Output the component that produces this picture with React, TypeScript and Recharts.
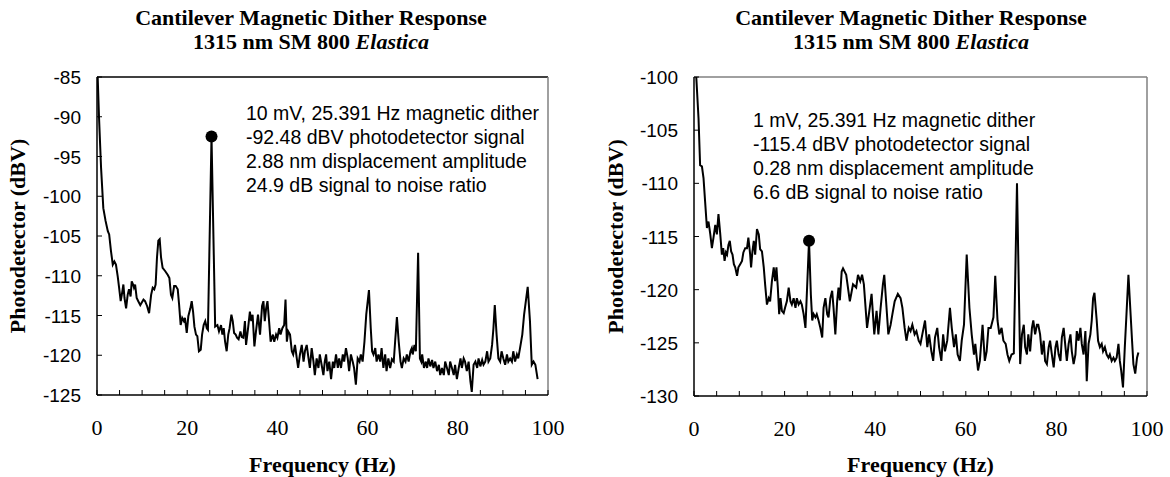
import React from 'react';
import { LineChart, Line, XAxis, YAxis, ReferenceLine, ReferenceDot } from 'recharts';

// ---------- Left panel (10 mV dither) ----------
const leftFreq = [
  0.15, 0.45, 0.9, 1.4, 1.9, 2.4, 2.7, 3.1, 3.5, 3.85, 4.2, 4.6, 4.9, 5.25, 5.5, 5.85, 6.1, 6.45, 6.8, 7.1,
  7.45, 7.7, 8.0, 8.2, 8.45, 8.8, 9.15, 9.6, 9.9, 10.3, 10.65, 11.1, 11.55, 12.0, 12.35, 12.7, 13.0, 13.3, 13.6, 13.9,
  14.2, 14.55, 15.1, 15.7, 16.05, 16.4, 16.7, 17.1, 17.45, 17.9, 18.2, 18.55, 18.9, 19.25, 19.5, 19.9, 20.25, 20.7, 21.0, 21.3,
  21.6, 21.95, 22.25, 22.6, 23.0, 23.3, 23.65, 24.0, 24.35, 24.6, 25.391, 26.2, 26.7, 27.05, 27.5, 27.8, 28.1, 28.4, 28.75, 29.1,
  29.4, 29.8, 30.1, 30.4, 30.75, 31.05, 31.4, 31.8, 32.1, 32.45, 32.8, 33.05, 33.5, 33.9, 34.2, 34.5, 34.9, 35.25, 35.7, 36.15,
  36.6, 36.9, 37.2, 37.5, 37.8, 38.1, 38.5, 39.0, 39.3, 39.7, 40.0, 40.4, 40.7, 41.1, 41.5, 41.8, 42.1, 42.4, 42.8, 43.2,
  43.5, 43.9, 44.3, 44.6, 45.0, 45.4, 45.8, 46.1, 46.5, 46.9, 47.2, 47.6, 48.0, 48.3, 48.7, 49.1, 49.4, 49.8, 50.2, 50.5,
  50.8, 51.1, 51.5, 51.9, 52.3, 52.6, 53.0, 53.4, 53.7, 54.1, 54.5, 54.8, 55.2, 55.6, 55.9, 56.3, 56.7, 57.0, 57.4, 57.8,
  58.2, 58.5, 58.9, 59.3, 59.7, 60.3, 60.7, 61.0, 61.3, 61.7, 62.0, 62.4, 62.8, 63.1, 63.5, 63.9, 64.2, 64.6, 65.0, 65.4,
  65.8, 66.1, 66.5, 66.9, 67.3, 67.6, 68.0, 68.4, 68.7, 69.1, 69.5, 69.8, 70.0, 70.4, 70.7, 71.2, 71.6, 71.9, 72.1, 72.5,
  72.9, 73.2, 73.5, 73.9, 74.3, 74.6, 75.0, 75.4, 75.8, 76.1, 76.5, 76.9, 77.2, 77.6, 78.0, 78.3, 78.7, 79.1, 79.4, 79.8,
  80.2, 80.6, 80.9, 81.3, 81.6, 82.0, 82.4, 82.8, 83.1, 83.5, 83.9, 84.3, 84.6, 85.0, 85.4, 85.7, 86.1, 86.5, 86.8, 87.2,
  87.6, 87.9, 88.2, 88.6, 89.0, 89.4, 89.7, 90.1, 90.5, 90.9, 91.2, 91.6, 92.0, 92.3, 92.7, 93.1, 93.4, 93.8, 94.3, 94.7,
  95.5, 96.0, 96.4, 96.8, 97.2, 97.7,
];
const leftDbv = [
  -85.0, -90.1, -96.4, -101.5, -103.1, -104.4, -104.8, -106.9, -108.6, -108.2, -108.6, -110.1, -111.5, -113.2, -112.4, -111.1, -112.8, -114.1, -112.4, -111.7,
  -112.6, -110.7, -111.1, -111.5, -111.1, -112.8, -113.2, -113.7, -113.4, -113.0, -113.2, -113.8, -114.7, -112.4, -111.5, -111.7, -111.1, -107.7, -105.6, -105.4,
  -107.7, -109.0, -109.4, -109.9, -110.3, -112.4, -112.8, -111.3, -111.3, -111.7, -113.6, -116.2, -115.3, -115.7, -115.3, -117.2, -115.1, -114.1, -113.2, -114.5,
  -116.4, -117.4, -117.6, -119.5, -119.3, -117.4, -116.2, -115.7, -116.6, -116.8, -92.48, -116.4, -116.2, -117.0, -116.2, -117.4, -116.6, -118.3, -119.5, -117.4,
  -116.6, -114.9, -115.7, -117.2, -117.4, -117.8, -118.0, -117.0, -117.7, -117.8, -115.7, -118.7, -116.6, -114.5, -115.7, -114.9, -118.9, -117.0, -114.9, -117.4,
  -113.8, -113.2, -115.7, -114.1, -113.2, -115.3, -118.3, -117.4, -118.3, -117.4, -117.8, -116.6, -117.4, -116.6, -116.2, -113.0, -118.3, -117.0, -117.4, -119.5,
  -119.9, -118.7, -120.4, -121.6, -119.9, -118.7, -120.8, -119.5, -118.7, -120.4, -121.6, -119.1, -120.8, -122.5, -120.4, -121.6, -119.9, -121.2, -122.5, -120.8,
  -119.9, -122.0, -120.8, -123.0, -120.8, -121.6, -119.9, -121.6, -120.4, -121.6, -119.9, -120.8, -119.1, -120.4, -122.0, -119.9, -120.8, -121.6, -123.7, -120.4,
  -120.8, -119.9, -120.8, -118.3, -114.9, -111.8, -116.6, -119.5, -119.9, -119.1, -120.8, -119.9, -120.8, -119.1, -121.6, -119.9, -122.0, -120.4, -121.6, -120.5,
  -120.8, -118.3, -115.2, -118.3, -120.8, -121.6, -120.4, -120.8, -119.9, -120.8, -119.5, -119.1, -119.9, -118.7, -119.5, -107.1, -120.4, -120.8, -119.9, -121.6,
  -120.8, -121.6, -120.4, -121.4, -120.6, -121.6, -120.8, -122.0, -121.2, -122.5, -121.6, -122.5, -120.8, -121.6, -122.5, -120.8, -121.6, -122.5, -121.2, -123.0,
  -121.6, -120.4, -121.6, -120.4, -120.8, -122.0, -120.8, -123.3, -124.6, -121.2, -120.8, -121.6, -120.4, -121.4, -120.6, -121.2, -120.8, -119.5, -120.8, -120.4,
  -118.7, -116.6, -113.7, -117.4, -120.4, -120.8, -119.5, -120.4, -121.2, -119.9, -120.8, -120.4, -120.8, -119.5, -120.8, -119.9, -120.4, -119.1, -117.4, -114.9,
  -111.4, -115.7, -121.2, -120.8, -121.2, -123.0,
];

// ---------- Right panel (1 mV dither) ----------
const rightFreq = [
  0.5, 1.0, 1.35, 1.75, 2.1, 2.45, 2.85, 3.2, 3.6, 3.95, 4.3, 4.7, 5.05, 5.4, 5.8, 6.15, 6.45, 6.75, 7.05, 7.3,
  7.6, 7.9, 8.2, 8.5, 8.8, 9.1, 9.5, 9.8, 10.2, 10.6, 10.9, 11.3, 11.7, 12.0, 12.4, 12.6, 12.9, 13.2, 13.5, 13.9,
  14.3, 14.6, 15.0, 15.4, 15.7, 16.1, 16.5, 16.8, 17.2, 17.6, 17.9, 18.2, 18.5, 18.8, 19.1, 19.4, 19.8, 20.1, 20.5, 20.9,
  21.3, 21.6, 22.0, 22.4, 22.7, 23.1, 23.5, 23.8, 24.2, 24.6, 25.391, 25.8, 26.1, 26.4, 26.8, 27.1, 27.5, 27.9, 28.3, 28.6,
  29.0, 29.4, 29.7, 30.1, 30.5, 30.8, 31.2, 31.6, 31.9, 32.2, 32.6, 32.9, 33.6, 34.4, 35.1, 35.8, 36.2, 36.7, 37.1, 37.5,
  38.2, 38.8, 39.2, 39.8, 40.3, 40.7, 41.2, 41.7, 42.0, 42.5, 42.9, 43.4, 43.8, 44.3, 45.0, 45.6, 46.0, 46.5, 46.9, 47.4,
  47.8, 48.2, 48.7, 49.1, 49.6, 50.0, 50.4, 51.0, 51.5, 51.9, 52.4, 52.8, 53.2, 53.7, 54.1, 54.6, 55.0, 55.4, 55.9, 56.5,
  56.9, 57.4, 57.8, 58.2, 58.7, 59.1, 59.6, 60.2, 60.8, 61.3, 61.8, 62.1, 62.7, 63.1, 63.7, 64.2, 64.6, 65.0, 65.5, 66.1,
  66.5, 67.0, 67.4, 67.9, 68.3, 68.8, 69.2, 69.6, 70.1, 70.6, 71.3, 72.0, 72.4, 72.8, 73.1, 73.5, 73.8, 74.2, 74.6, 74.9,
  75.3, 75.7, 76.0, 76.4, 76.8, 77.2, 77.5, 77.9, 78.3, 78.6, 79.0, 79.4, 79.8, 80.1, 80.5, 80.9, 81.2, 81.6, 82.0, 82.3,
  82.7, 83.1, 83.4, 83.8, 84.2, 84.5, 84.9, 85.3, 85.6, 86.0, 86.4, 86.7, 87.1, 87.5, 87.8, 88.1, 88.4, 88.9, 89.2, 89.6,
  90.0, 90.3, 90.7, 91.1, 91.5, 91.8, 92.2, 92.6, 92.9, 93.3, 93.7, 94.0, 94.3, 94.7, 95.1, 95.4, 95.9, 96.3, 96.7, 97.0,
  97.4, 97.8, 98.1,
];
const rightDbv = [
  -100.0, -103.9, -108.3, -108.4, -109.5, -111.7, -114.2, -113.6, -114.8, -116.1, -115.1, -113.9, -114.8, -112.9, -114.8, -116.7, -116.1, -117.3, -116.5, -116.7,
  -115.8, -115.4, -116.4, -116.7, -117.6, -117.9, -118.7, -117.9, -117.6, -117.3, -116.5, -116.1, -116.1, -115.1, -116.7, -117.9, -116.4, -115.4, -116.7, -114.3,
  -114.8, -116.2, -116.4, -117.9, -119.5, -121.4, -120.8, -121.1, -119.2, -117.9, -119.2, -117.9, -119.8, -122.3, -120.8, -122.0, -122.2, -121.7, -121.1, -119.8,
  -121.1, -121.4, -120.8, -121.7, -120.8, -121.4, -121.1, -121.4, -122.3, -123.6, -115.4, -120.5, -122.9, -122.3, -122.6, -122.3, -122.9, -123.6, -124.5, -121.7,
  -120.8, -122.3, -122.6, -120.8, -120.1, -121.7, -124.2, -121.1, -119.8, -121.0, -118.3, -118.0, -118.6, -121.1, -119.5, -119.8, -118.6, -119.2, -118.6, -119.5,
  -123.6, -121.7, -120.4, -124.2, -122.0, -124.2, -121.7, -119.5, -118.6, -121.7, -124.2, -123.3, -122.3, -121.1, -120.4, -120.8, -121.7, -123.6, -124.8, -123.6,
  -123.9, -123.3, -124.2, -123.9, -124.8, -125.1, -124.2, -122.9, -125.4, -124.2, -125.8, -126.7, -124.5, -123.6, -125.4, -126.7, -124.2, -125.8, -124.8, -121.7,
  -123.6, -125.4, -124.2, -126.1, -126.7, -124.8, -123.3, -116.7, -121.7, -124.2, -126.1, -125.1, -127.6, -126.7, -123.3, -126.7, -125.8, -123.6, -123.6, -122.6,
  -118.7, -122.9, -124.2, -123.6, -124.8, -125.1, -126.1, -126.7, -126.1, -126.0, -110.0, -127.0, -124.2, -123.3, -125.4, -126.1, -124.2, -125.8, -123.6, -122.9,
  -124.2, -123.3, -123.3, -124.2, -126.1, -124.8, -126.7, -127.0, -125.4, -124.8, -126.1, -127.3, -125.4, -124.8, -126.1, -126.7, -124.5, -123.6, -125.4, -126.7,
  -125.1, -124.2, -125.8, -127.0, -126.1, -123.9, -124.8, -123.6, -125.1, -126.1, -123.9, -128.6, -125.1, -124.2, -122.9, -120.8, -120.3, -122.9, -124.8, -125.4,
  -125.1, -125.8, -125.4, -126.1, -126.4, -126.1, -126.7, -126.4, -126.7, -126.4, -125.1, -126.7, -127.6, -129.2, -125.4, -122.9, -118.6, -121.7, -124.8, -127.0,
  -127.9, -126.4, -125.9,
];

const xTicks = [0, 5, 10, 15, 20, 25, 30, 35, 40, 45, 50, 55, 60, 65, 70, 75, 80, 85, 90, 95, 100];
const xLabelTicks = [0, 20, 40, 60, 80, 100];
const leftYTicks = [-125, -120, -115, -110, -105, -100, -95, -90, -85];
const rightYTicks = [-130, -125, -120, -115, -110, -105, -100];

const titleLine1 = 'Cantilever Magnetic Dither Response';
const titleLine2 = '1315 nm SM 800 ';
const titleItalic = 'Elastica';
const yTitle = 'Photodetector (dBV)';
const xTitle = 'Frequency (Hz)';

const leftNotes = [
  '10 mV, 25.391 Hz magnetic dither',
  '-92.48 dBV photodetector signal',
  '2.88 nm displacement amplitude',
  '24.9 dB signal to noise ratio',
];
const rightNotes = [
  '1 mV, 25.391 Hz magnetic dither',
  '-115.4 dBV photodetector signal',
  '0.28 nm displacement amplitude',
  '6.6 dB signal to noise ratio',
];
const leftPeak = { f: 25.391, dbv: -92.48 };
const rightPeak = { f: 25.391, dbv: -115.4 };

const SERIF = '"Liberation Serif", "Times New Roman", serif';
const SANS = '"Liberation Sans", Arial, sans-serif';

const W = 585;
const H = 477;
const X_AXIS_H = 30;
const Y_AXIS_W = 60;

function XTick(props: any) {
  const { x, y, payload } = props;
  const v = payload.value;
  return (
    <g>
      <line x1={x} y1={y} x2={x} y2={y - 5} stroke="#000" strokeWidth={1} />
      {xLabelTicks.includes(v) ? (
        <text x={x} y={y + 40} textAnchor="middle" fontFamily={SERIF} fontSize={22} fill="#000">
          {v}
        </text>
      ) : null}
    </g>
  );
}

function YTick(props: any) {
  const { x, y, payload } = props;
  return (
    <g>
      <line x1={x} y1={y} x2={x + 5} y2={y} stroke="#000" strokeWidth={1} />
      <text x={x - 16} y={y + 7} textAnchor="end" fontFamily={SANS} fontSize={19} fill="#000">
        {payload.value}
      </text>
    </g>
  );
}

type PanelProps = {
  left: number;
  freq: number[];
  dbv: number[];
  yTicks: number[];
  yDomain: [number, number];
  peak: { f: number; dbv: number };
  notes: string[];
  plot: { top: number; right: number; bottom: number; left: number };
  topStroke: string;
  titleX: number;
  yTitleX: number;
  notesX: number;
  notesY: number;
};

function Panel(p: PanelProps) {
  const data = p.freq.map((f, i) => ({ f, v: p.dbv[i] }));
  const margin = {
    top: p.plot.top,
    right: p.plot.right,
    bottom: p.plot.bottom - X_AXIS_H,
    left: p.plot.left - Y_AXIS_W,
  };
  const plotW = W - p.plot.left - p.plot.right;
  const plotH = H - p.plot.top - p.plot.bottom;
  const cx = p.plot.left + plotW / 2;
  const cy = p.plot.top + plotH / 2;
  return (
    <div style={{ position: 'absolute', left: p.left, top: 0, width: W, height: H }}>
      <LineChart width={W} height={H} data={data} margin={margin}>
        <XAxis
          dataKey="f"
          type="number"
          domain={[0, 100]}
          ticks={xTicks}
          interval={0}
          height={X_AXIS_H}
          tickSize={0}
          tickMargin={0}
          tickLine={false}
          axisLine={{ stroke: '#000', strokeWidth: 1.5 }}
          tick={<XTick />}
          allowDataOverflow
        />
        <YAxis
          type="number"
          domain={p.yDomain}
          ticks={p.yTicks}
          interval={0}
          width={Y_AXIS_W}
          tickSize={0}
          tickMargin={0}
          tickLine={false}
          axisLine={{ stroke: '#000', strokeWidth: 1.5 }}
          tick={<YTick />}
          allowDataOverflow
        />
        <ReferenceLine y={p.yDomain[1]} stroke={p.topStroke} strokeWidth={1.5} />
        <ReferenceLine x={100} stroke="#808080" strokeWidth={1.5} />
        <Line
          type="linear"
          dataKey="v"
          stroke="#000"
          strokeWidth={2}
          dot={false}
          activeDot={false}
          isAnimationActive={false}
        />
        <ReferenceDot x={p.peak.f} y={p.peak.dbv} r={6} fill="#000" stroke="#000" strokeWidth={0} />
      </LineChart>
      <svg
        width={W}
        height={H}
        style={{ position: 'absolute', left: 0, top: 0, pointerEvents: 'none' }}
      >
        <text x={p.titleX} y={25} textAnchor="middle" fontFamily={SERIF} fontWeight="bold" fontSize={22} fill="#000">
          {titleLine1}
        </text>
        <text x={p.titleX} y={49} textAnchor="middle" fontFamily={SERIF} fontWeight="bold" fontSize={22} fill="#000">
          {titleLine2}
          <tspan fontStyle="italic">{titleItalic}</tspan>
        </text>
        <text
          x={p.yTitleX}
          y={cy}
          transform={`rotate(-90 ${p.yTitleX} ${cy})`}
          textAnchor="middle"
          fontFamily={SERIF}
          fontWeight="bold"
          fontSize={22}
          fill="#000"
        >
          {yTitle}
        </text>
        <text x={cx} y={472} textAnchor="middle" fontFamily={SERIF} fontWeight="bold" fontSize={22} fill="#000">
          {xTitle}
        </text>
        {p.notes.map((t, i) => (
          <text key={i} x={p.notesX} y={p.notesY + i * 24} fontFamily={SANS} fontSize={19.5} fill="#000">
            {t}
          </text>
        ))}
      </svg>
    </div>
  );
}

export default function App() {
  return (
    <div style={{ position: 'absolute', left: 0, top: 0, width: 1170, height: 477, background: '#fff' }}>
      <Panel
        left={0}
        freq={leftFreq}
        dbv={leftDbv}
        yTicks={leftYTicks}
        yDomain={[-125, -85]}
        peak={leftPeak}
        notes={leftNotes}
        plot={{ top: 77, right: 37, bottom: 82, left: 97 }}
        topStroke="#000"
        titleX={311}
        yTitleX={25}
        notesX={246}
        notesY={120}
      />
      <Panel
        left={585}
        freq={rightFreq}
        dbv={rightDbv}
        yTicks={rightYTicks}
        yDomain={[-130, -100]}
        peak={rightPeak}
        notes={rightNotes}
        plot={{ top: 77, right: 23, bottom: 81, left: 109 }}
        topStroke="#808080"
        titleX={326}
        yTitleX={38}
        notesX={168}
        notesY={127}
      />
    </div>
  );
}
